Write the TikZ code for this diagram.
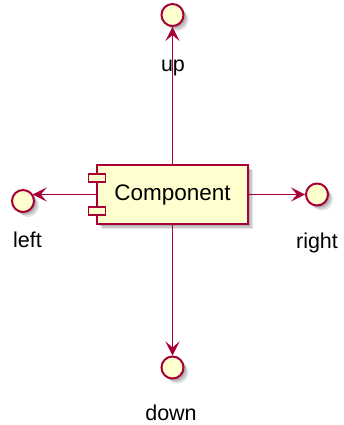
\documentclass[tikz,border=0pt]{standalone}
\usepackage{fontspec}
\setmainfont{Liberation Sans}
\usepackage{xcolor}
\usepackage{tikz}
\definecolor{crimson}{HTML}{A80036}
\definecolor{cream}{HTML}{FEFECE}
\usetikzlibrary{arrows.meta}

\begin{document}
\begin{tikzpicture}[x=1pt,y=-1pt,
  shade/.style={
    preaction={fill=black,opacity=0.14,transform canvas={shift={(2pt,-2pt)}}},
    preaction={fill=black,opacity=0.12,transform canvas={shift={(3.5pt,-3.5pt)}}},
    preaction={fill=black,opacity=0.10,transform canvas={shift={(5pt,-5pt)}}}},
  comp/.style={rectangle,draw=crimson,fill=cream,line width=1.4pt,
              minimum width=151pt,minimum height=59pt,inner sep=0pt,
              font=\fontsize{22.5}{27}\selectfont,shade},
  tab/.style={draw=crimson,fill=cream,line width=1.4pt},
  iface/.style={circle,draw=crimson,fill=cream,line width=2pt,
              minimum size=22pt,inner sep=0pt,shade},
  lbl/.style={anchor=base,font=\fontsize{21.5}{26}\selectfont,inner sep=0pt},
  arr/.style={-{Stealth[length=14pt,width=14pt,inset=6pt]},color=crimson,line width=1.1pt}]
  \useasboundingbox (0,0) rectangle (343,425);
  \node[comp] (c) at (172.5,194.5){Component};
  \draw[tab] ([shift={(-8,-20.5)}]c.west) rectangle ([shift={(9,-12.5)}]c.west);
  \draw[tab] ([shift={(-8,12.5)}]c.west) rectangle ([shift={(9,20.5)}]c.west);
  \node[iface] (up)    at (172.5,15){};
  \node[iface] (left)  at (23,201){};
  \node[iface] (right) at (317,194.5){};
  \node[iface] (down)  at (172.5,367.5){};
  \node[lbl] (lup)    at (173,72){up};
  \node[lbl] (lleft)  at (27.5,247.5){left};
  \node[lbl] (lright) at (317,248){right};
  \node[lbl] (ldown)  at (171,420){down};
  \draw[arr](c.north)--(up.south);\draw[arr](c.south)--(down.north);
  \draw[arr](c.west)--(c.west -| left.36);\draw[arr](c.east)--(right.west);
\end{tikzpicture}
\end{document}
